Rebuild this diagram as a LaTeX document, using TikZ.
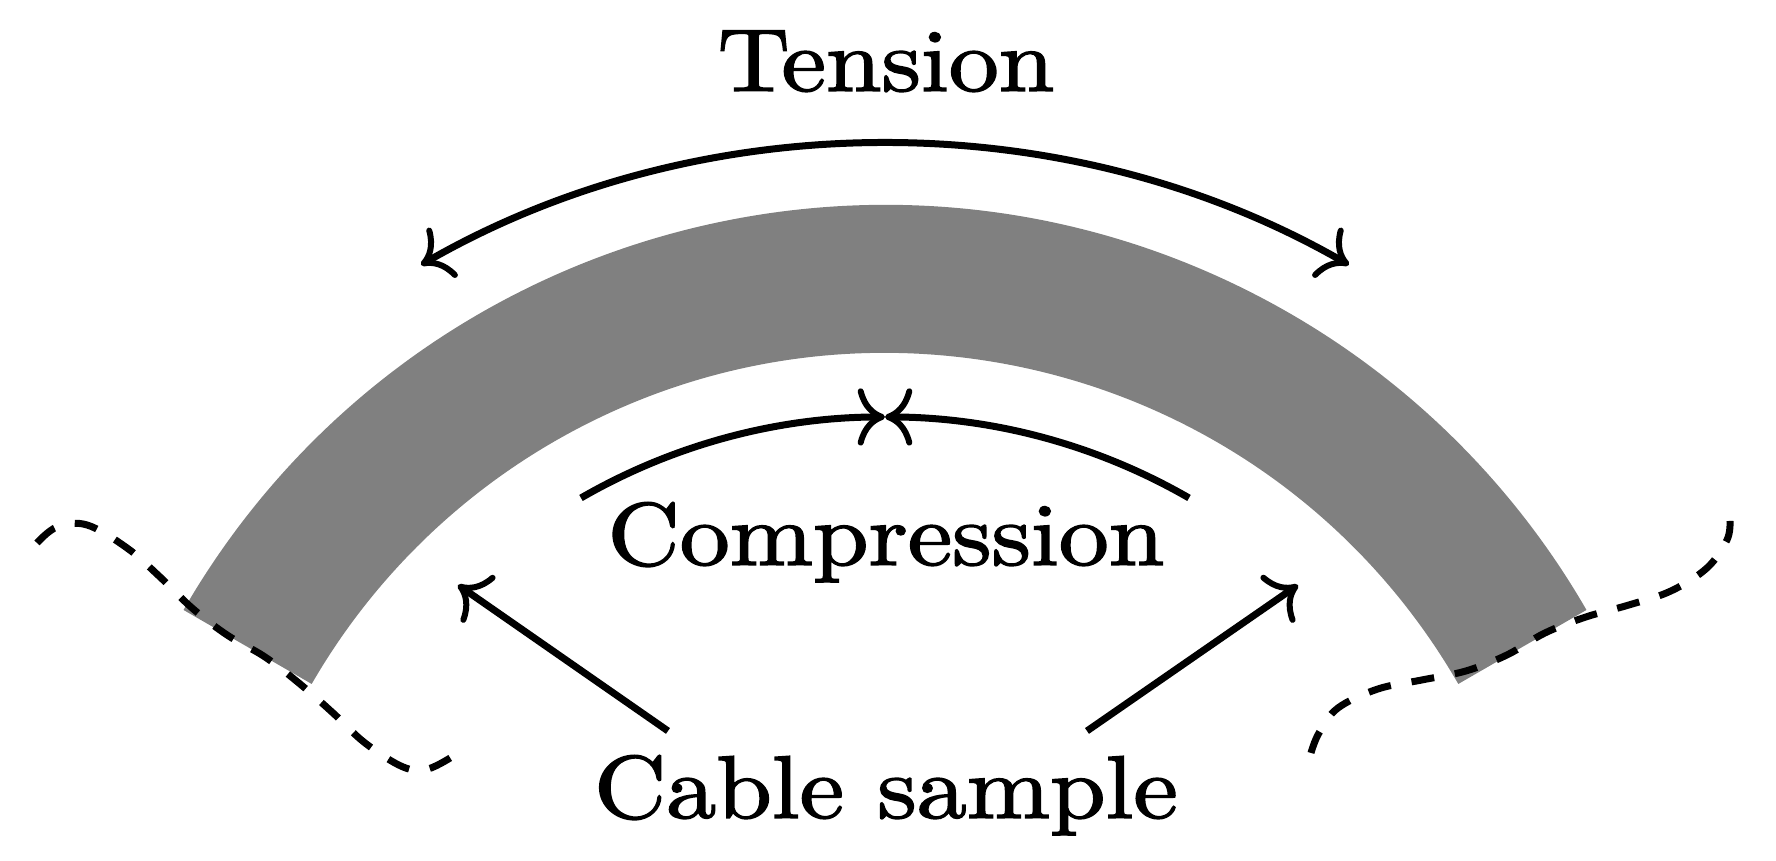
\documentclass[tikz,border=0pt]{standalone}
\usepackage{fontspec}
\setmainfont[FakeBold=1.6]{Latin Modern Roman}
\usetikzlibrary{arrows.meta}
\tikzset{
  lab/.style={anchor=base,inner sep=0pt,outer sep=0pt,yscale=0.89},
  arrowline/.style={line width=0.7pt,black,>={Computer Modern Rightarrow[scale=.87,line width=0.6pt]}},
  cutline/.style={line width=0.7pt,black,dash pattern=on 2.3pt off 2.1pt}
}
\begin{document}
\begin{tikzpicture}[x=0.1pt,y=0.1pt]
\useasboundingbox (0,0) rectangle (1776,861);
% cable band
\fill[gray,shift={(885,-154)}] (150:810) arc[start angle=150,end angle=30,radius=810]
   -- (30:662) arc[start angle=30,end angle=150,radius=662] -- cycle;
% labels
\node[lab] (tension) at (886,770) {Tension};
\node[lab] (compression) at (886,296) {Compression};
\node[lab] (cable) at (886,43) {Cable sample};
% coordinates
\coordinate (tl) at (421,596);
\coordinate (tr) at (1349,596);
\coordinate (cl) at (581,363);
\coordinate (cr) at (1189,363);
\coordinate (cm) at (885,444);
\coordinate (al) at (668,130);
\coordinate (atl) at (458,276);
\coordinate (ar) at (1087,130);
\coordinate (atr) at (1298,276);
% arrows
\draw[arrowline,<->] (tl) to[bend left=30,looseness=.897] (tr);
\draw[arrowline,->] (cl) to[out=30,in=180,looseness=.87] (cm);
\draw[arrowline,->] (cr) to[out=150,in=0,looseness=.87] (cm);
\draw[arrowline,->] (al) -- (atl);
\draw[arrowline,->] (ar) -- (atr);
% cut lines
\draw[cutline] plot[smooth,tension=0.6] coordinates {(37,318) (57,334) (87,336) (127,313) (160,284) (192,253) (227,226) (265,204) (300,177) (333,148) (365,118) (403,94) (428,92) (455,106)};
\draw[cutline] plot[smooth,tension=0.6] coordinates {(1311,108) (1319,128) (1338,153) (1378,172) (1422,181) (1466,190) (1507,206) (1545,228) (1586,244) (1629,256) (1671,270) (1707,293) (1727,321) (1730,340)};
\end{tikzpicture}
\end{document}
